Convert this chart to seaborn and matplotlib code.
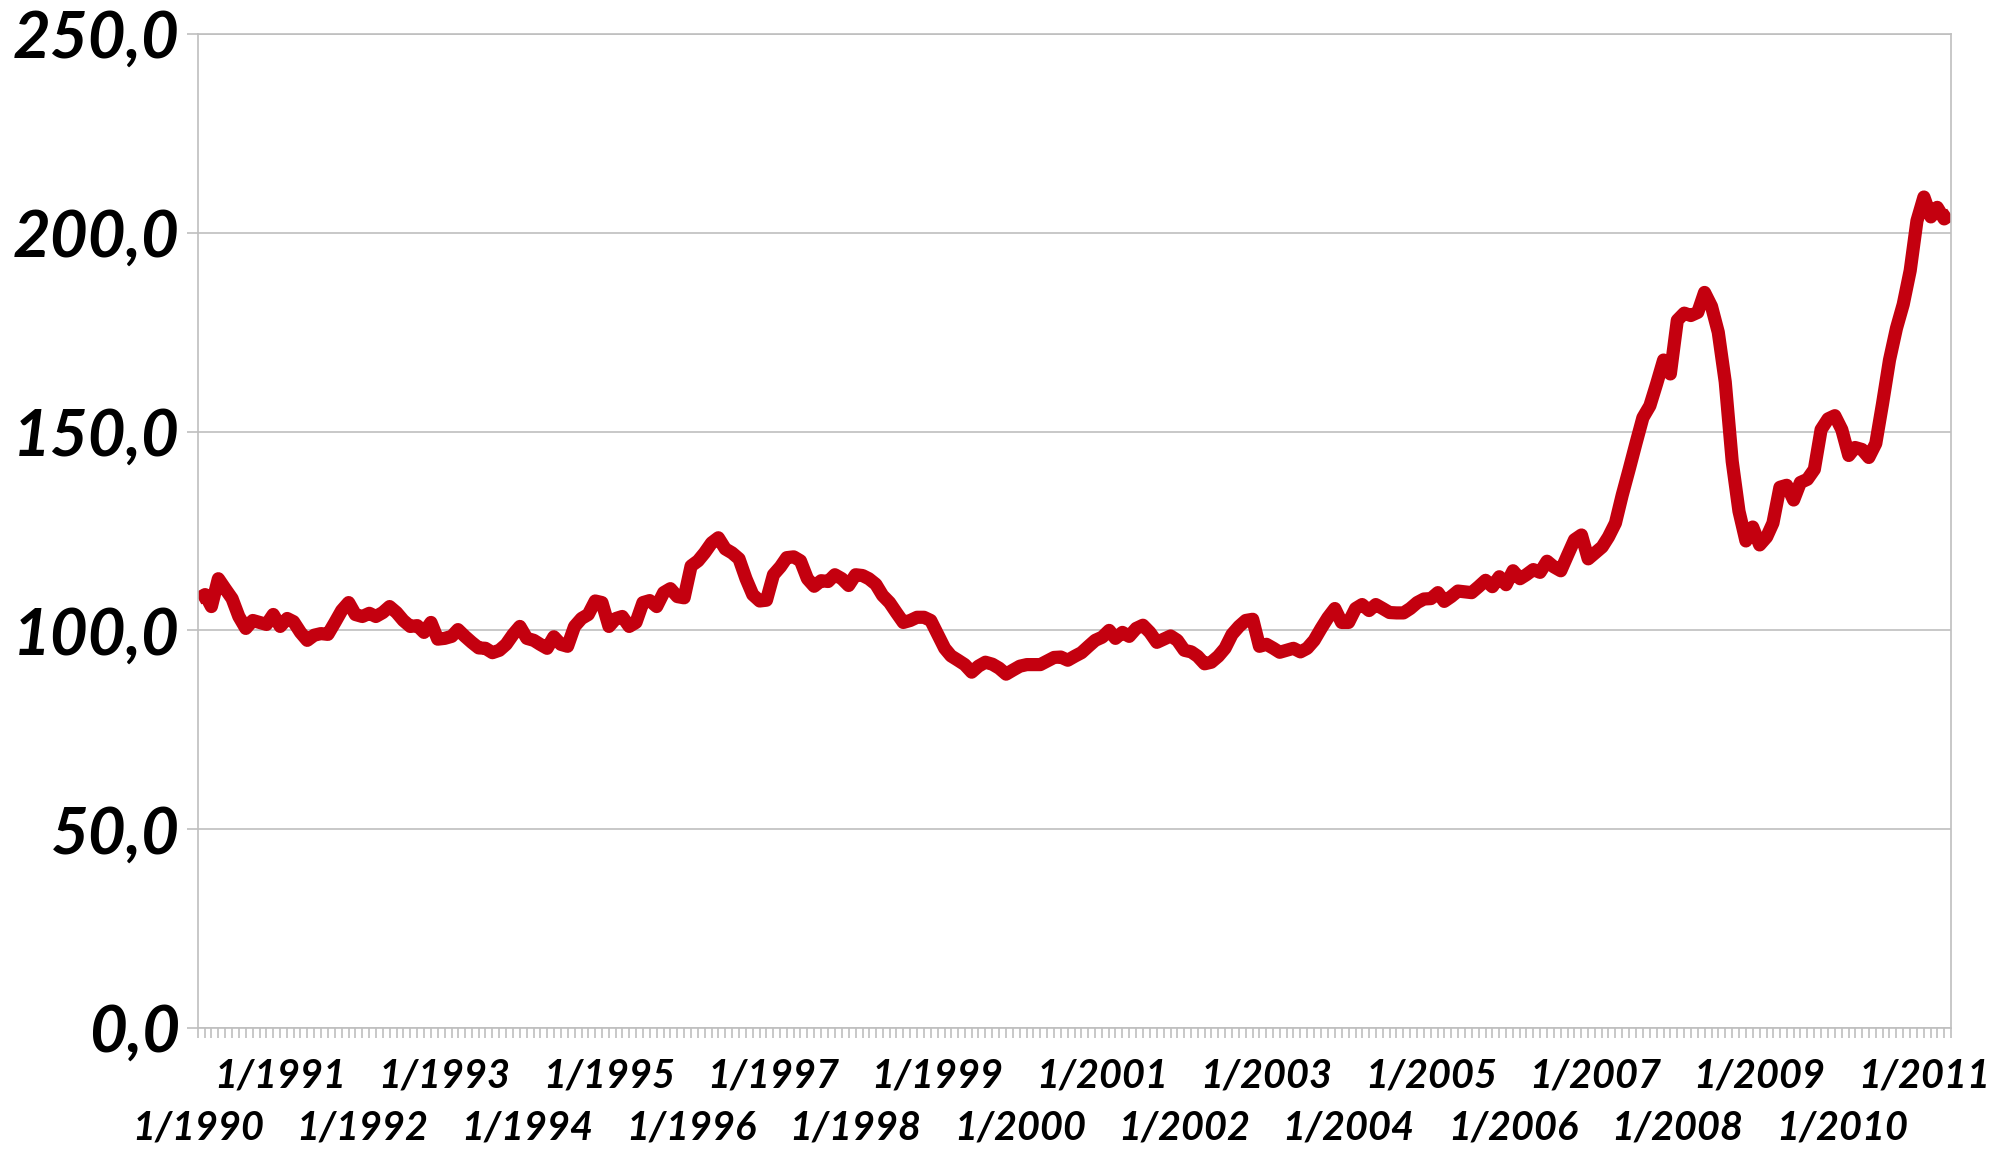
import pandas as pd
import matplotlib
matplotlib.use("Agg")
import matplotlib.pyplot as plt
import matplotlib.dates as mdates
from matplotlib.ticker import FuncFormatter, MultipleLocator, FixedLocator
import seaborn as sns

# monthly index values, Jan 1990 - May 2011
v1990 = [108, 109, 106, 113, 110.5, 108, 103.5, 100.5, 102.5, 102, 101.5, 104]
v1991 = [101, 103, 102.2, 99.5, 97.5, 98.8, 99.2, 99, 102, 105, 107, 104]
v1992 = [103.5, 104.3, 103.5, 104.5, 106, 104.5, 102.5, 101, 101.2, 99.5, 102, 97.8]
v1993 = [98, 98.5, 100.2, 98.5, 97, 95.6, 95.5, 94.4, 95, 96.5, 99, 101]
v1994 = [98, 97.5, 96.5, 95.5, 98.4, 96.5, 96, 101, 103, 104, 107.4, 107]
v1995 = [101, 103, 103.5, 101, 102, 107, 107.5, 106, 109.5, 110.5, 108.5, 108.2]
v1996 = [116.2, 117.5, 119.5, 122, 123.3, 120.5, 119.5, 118, 113, 109, 107.4, 107.6]
v1997 = [114, 116, 118.3, 118.5, 117.5, 113, 111.1, 112.5, 112.3, 114, 113, 111.3]
v1998 = [114, 113.8, 113, 111.6, 108.8, 107, 104.5, 102, 102.5, 103.3, 103.3, 102.5]
v1999 = [99, 95.5, 93.6, 92.5, 91.4, 89.5, 91, 92, 91.5, 90.5, 89, 90]
v2000 = [91, 91.4, 91.4, 91.4, 92.3, 93.2, 93.3, 92.5, 93.5, 94.4, 96, 97.5]
v2001 = [98.3, 100, 98, 99.5, 98.5, 100.5, 101.3, 99.5, 97, 97.8, 98.6, 97.5]
v2002 = [95, 94.6, 93.5, 91.6, 92, 93.5, 95.5, 99, 101, 102.5, 102.8, 96]
v2003 = [96.5, 95.5, 94.5, 95, 95.5, 94.6, 95.5, 97.5, 100.5, 103.2, 105.5, 102]
v2004 = [102, 105.5, 106.5, 105, 106.5, 105.5, 104.5, 104.4, 104.4, 105.5, 107, 107.9]
v2005 = [108, 109.5, 107.3, 108.5, 109.9, 109.7, 109.5, 111, 112.6, 111, 113.5, 111.5]
v2006 = [115, 113, 114, 115.3, 114.6, 117.4, 116, 115, 119, 122.8, 124, 118]
v2007 = [119.5, 121, 123.5, 127, 134, 140.5, 147, 153.5, 156.5, 162, 168, 164.5]
v2008 = [178, 179.8, 179.2, 180, 185, 181.5, 175, 162.5, 142.5, 130, 122.5, 126]
v2009 = [121.5, 123.5, 127, 136, 136.5, 132.8, 137.2, 138, 140.5, 150.5, 153.2, 154]
v2010 = [150.5, 144, 146, 145.5, 143.5, 147, 157, 168, 176, 182, 190.5, 203]
v2011 = [209, 204, 206.4, 203.5, 204.7]

values = (v1990 + v1991 + v1992 + v1993 + v1994 + v1995 + v1996 + v1997
          + v1998 + v1999 + v2000 + v2001 + v2002 + v2003 + v2004 + v2005
          + v2006 + v2007 + v2008 + v2009 + v2010 + v2011)
dates = pd.date_range("1990-01-01", periods=len(values), freq="MS")
df = pd.DataFrame({"date": dates, "value": values})

years = list(range(1990, 2012))
odd_jan = [mdates.date2num(pd.Timestamp(y, 1, 1)) for y in years if y % 2]
even_jan = [mdates.date2num(pd.Timestamp(y, 1, 1)) for y in years if not y % 2]

sns.set_theme(style="white")
plt.rcParams["font.family"] = ["Lato", "DejaVu Sans"]

fig = plt.figure(figsize=(20.03, 11.49), dpi=100)
ax = fig.add_axes([0.0989, 0.1053, 0.8751, 0.8651])

sns.lineplot(data=df, x="date", y="value", ax=ax, color="#C4000F",
             linewidth=9.5, solid_joinstyle="round", solid_capstyle="butt")

grey = "#BFBFBF"
ax.set_ylim(0, 250)
ax.set_xlim(dates[0], dates[-1])
ax.yaxis.set_major_locator(MultipleLocator(50))
ax.yaxis.set_major_formatter(FuncFormatter(lambda v, p: f"{v:.1f}".replace(".", ",")))
ax.grid(axis="y", color=grey, linewidth=1.2)
ax.grid(axis="x", visible=False)
for s in ax.spines.values():
    s.set_color(grey)
    s.set_linewidth(1.2)

year_fmt = FuncFormatter(lambda d, p: "1/%d" % mdates.num2date(d).year)

# upper row: odd years on the main axis, with monthly minor ticks
ax.xaxis.set_major_locator(FixedLocator(odd_jan))
ax.xaxis.set_minor_locator(mdates.MonthLocator())
ax.xaxis.set_major_formatter(year_fmt)
ax.tick_params(axis="x", which="both", bottom=True, length=7, width=1.2,
               color=grey, direction="out")
ax.tick_params(axis="x", which="major", labelsize=28.5, pad=14,
               labelcolor="black")

# lower row: even years
sec = ax.secondary_xaxis("bottom")
sec.xaxis.set_major_locator(FixedLocator(even_jan))
sec.xaxis.set_major_formatter(year_fmt)
sec.tick_params(axis="x", length=0, labelsize=28.5, pad=59, labelcolor="black")
sec.spines["bottom"].set_visible(False)

ax.tick_params(axis="y", which="major", left=True, length=8, width=1.2,
               color=grey, labelsize=47, pad=5, labelcolor="black")

for lab in ax.get_xticklabels() + sec.get_xticklabels() + ax.get_yticklabels():
    lab.set_fontweight("bold")
    lab.set_fontstyle("italic")
ax.set_xlabel("")
ax.set_ylabel("")

fig.savefig("out.png", dpi=100)
